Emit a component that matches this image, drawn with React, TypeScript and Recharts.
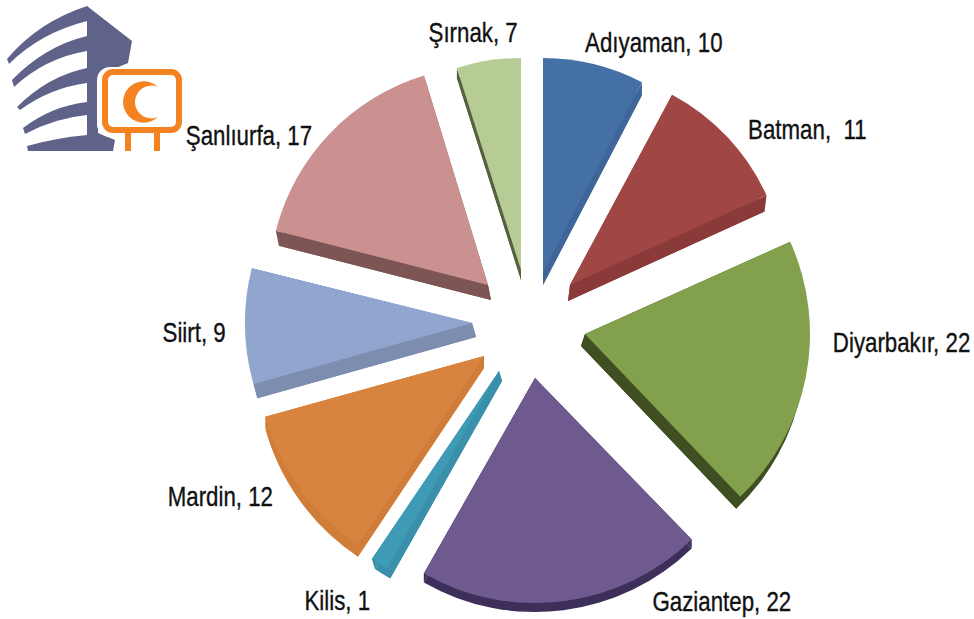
import React from 'react';
import { PieChart, Pie, Sector } from 'recharts';

const names = ['Adıyaman', 'Batman', 'Diyarbakır', 'Gaziantep', 'Kilis', 'Mardin', 'Siirt', 'Şanlıurfa', 'Şırnak'];
const values = [10, 11, 22, 22, 1, 12, 9, 17, 7];
const separators = [', ', ',  ', ', ', ', ', ', ', ', ', ', ', ', ', ', '];

const topColors = ['#4470a5', '#a04644', '#83a04c', '#6e5a8e', '#3f9ab5', '#d8843f', '#91a6cf', '#cb9090', '#b7cb94'];
const sideColors = ['#3e6699', '#8a3a38', '#3f4f22', '#3d2e5a', '#3a90ab', '#cf7d38', '#7c8db0', '#7d5555', '#55613f'];
const explodeX = [13, 40, 55, 5, -31, -46, -58, -42, -9];
const explodeY = [-53, -40, 9, 53, 46, 31, -2, -40, -55];
const radii = [214, 216, 225, 225, 227, 227, 227, 219, 212];
const depthX = [0, -2, -4, 0, 3, 0, 4, 3, 0];
const depthY = [13, 16, 12, 9, 10, 12, 14, 15, 10];
const startNudge = [0, 4.2, 2.3, 3.6, 1.3, 0.3, -1.4, -2.2, -5.1];
const endNudge = [4.9, 2.6, 3.1, 1.2, 0, -1.5, -1.8, -5.7, 0];
const labelAngles = [66.3, 35.1, -2.8, -55.3, -125, -151, 181.4, 146, 101];
const labelRadii = [308, 339, 372, 337, 336, 354, 336, 339, 298];

const rows = names.map((name, i) => ({ name, value: values[i] }));
const RAD = Math.PI / 180;
const pt = (cx: number, cy: number, r: number, a: number) => ({ x: cx + r * Math.cos(a * RAD), y: cy - r * Math.sin(a * RAD) });

function Slice(props: any) {
  const i = names.indexOf(props.name ?? props.payload?.name);
  const cx = props.cx + explodeX[i];
  const cy = props.cy + explodeY[i];
  const r = radii[i];
  const sa = props.startAngle + startNudge[i];
  const ea = props.endAngle + endNudge[i];
  const dx = depthX[i];
  const dy = depthY[i];
  const quad = (a: number) => {
    const p = pt(cx, cy, r, a);
    return `M${cx},${cy}L${p.x},${p.y}L${p.x + dx},${p.y + dy}L${cx + dx},${cy + dy}Z`;
  };
  return (
    <g>
      <Sector cx={cx + dx} cy={cy + dy} innerRadius={0} outerRadius={r} startAngle={sa} endAngle={ea} fill={sideColors[i]} stroke="none" />
      <path d={quad(sa)} fill={sideColors[i]} />
      <path d={quad(ea)} fill={sideColors[i]} />
      <Sector cx={cx} cy={cy} innerRadius={0} outerRadius={r} startAngle={sa} endAngle={ea} fill={topColors[i]} stroke="none" />
    </g>
  );
}

function Label(props: any) {
  const i = names.indexOf(props.name ?? props.payload?.name);
  const p = pt(props.cx, props.cy, labelRadii[i], labelAngles[i]);
  return (
    <text
      transform={`translate(${p.x},${p.y}) scale(0.825,1)`}
      textAnchor="middle"
      dominantBaseline="central"
      fontFamily="'Liberation Sans', Arial, sans-serif"
      fontSize={27}
      fill="#111"
      stroke="#111"
      strokeWidth={0.35}
      style={{ whiteSpace: 'pre' }}
    >
      {`${names[i]}${separators[i]}${values[i]}`}
    </text>
  );
}

function Logo() {
  const navy = '#5f6389';
  const orange = '#f58220';
  return (
    <svg width={200} height={160} style={{ position: 'absolute', left: 0, top: 0 }}>
      <path d="M87,6 L132,41 L128,63 L87,80 Z" fill={navy} />
      <path d="M87,6 L87,151 L113,151 L115,140 L98,133 L98,70 L128,63 Z" fill={navy} />
      <path d="M7,59 Q38,22 87,6 L87,21 Q40,33 9,64 Z" fill={navy} />
      <path d="M12,80 Q45,46 87,36 L87,51 Q45,58 14,87 Z" fill={navy} />
      <path d="M17,107 Q48,76 87,68 L87,83 Q50,88 20,110 Z" fill={navy} />
      <path d="M23,128 Q52,106 87,102 L87,115 Q55,118 25,134 Z" fill={navy} />
      <path d="M27,146 Q55,138 87,135 L87,151 L28,151 Z" fill={navy} />
      <rect x={97} y={67} width={88} height={70} rx={13} fill="#fff" />
      <rect x={105} y={72} width={74} height={58} rx={8} fill="#fff" stroke={orange} strokeWidth={6} />
      <rect x={125} y={133} width={6} height={18} fill={orange} />
      <rect x={154} y={133} width={6} height={18} fill={orange} />
      <path d="M158,87 A20.7,20.7 0 1 0 158,117 A16.4,16.4 0 1 1 158,87 Z" fill={orange} />
    </svg>
  );
}

export default function App() {
  return (
    <div style={{ position: 'absolute', left: 0, top: 0, width: 974, height: 619, background: '#fff' }}>
      <PieChart width={974} height={619} margin={{ top: 0, right: 0, bottom: 0, left: 0 }}>
        <Pie
          data={rows}
          dataKey="value"
          nameKey="name"
          cx={530}
          cy={325}
          outerRadius={225}
          startAngle={90}
          endAngle={-270}
          paddingAngle={0}
          stroke="none"
          isAnimationActive={false}
          shape={Slice}
          label={Label}
          labelLine={false}
        />
      </PieChart>
      <Logo />
    </div>
  );
}
